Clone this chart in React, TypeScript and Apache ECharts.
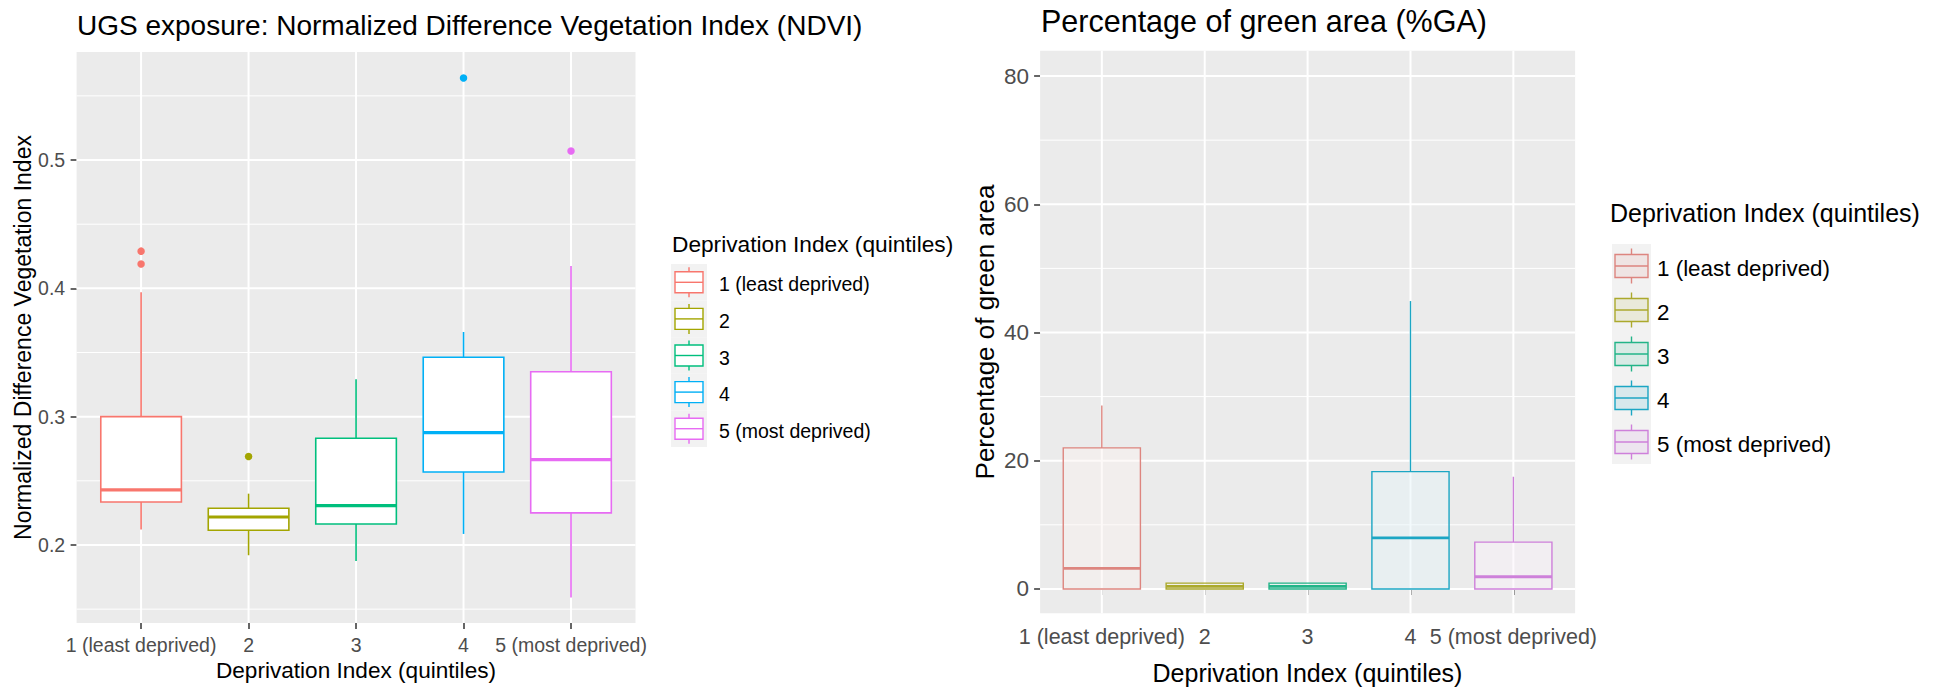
import { useEffect, useRef } from 'react';
import * as echarts from 'echarts';

// ---------- data ----------
const categories = ['1 (least deprived)', '2', '3', '4', '5 (most deprived)'];
const categoryPositions = [1, 2, 3, 4, 5];
const palette = ['#F8766D', '#A3A500', '#00BF7D', '#00B0F6', '#E76BF3'];
const paletteRight = ['#DD857F', '#ABA92C', '#22B488', '#1CA6C4', '#CE80DA'];

// NDVI panel (box statistics per quintile)
const ndviLow = [0.212, 0.192, 0.1875, 0.2086, 0.159];
const ndviQ1 = [0.2335, 0.2115, 0.2164, 0.2569, 0.225];
const ndviMedian = [0.243, 0.2218, 0.2306, 0.2875, 0.2665];
const ndviQ3 = [0.3, 0.2286, 0.2832, 0.3463, 0.335];
const ndviHigh = [0.397, 0.24, 0.3291, 0.366, 0.4175];
const ndviOutlierCategory = [1, 1, 2, 4, 5];
const ndviOutlierValue = [0.429, 0.419, 0.269, 0.564, 0.507];
const ndviTicks = [0.2, 0.3, 0.4, 0.5];
const ndviMinorTicks = [0.15, 0.25, 0.35, 0.45, 0.55];
const ndviRange = [0.1392, 0.5842];

// %GA panel
const gaLow = [0, 0, 0, 0, 0];
const gaQ1 = [0, 0, 0, 0, 0];
const gaMedian = [3.2, 0.4, 0.4, 7.95, 1.9];
const gaQ3 = [22.0, 0.9, 0.9, 18.3, 7.3];
const gaHigh = [28.6, 0.9, 0.9, 44.9, 17.5];
const gaTicks = [0, 20, 40, 60, 80];
const gaMinorTicks = [10, 30, 50, 70];
const gaRange = [-3.8, 83.95];

const xRange = [0.4, 5.6];

const leftTitle = 'UGS exposure: Normalized Difference Vegetation Index (NDVI)';
const rightTitle = 'Percentage of green area (%GA)';
const xTitle = 'Deprivation Index (quintiles)';
const leftYTitle = 'Normalized Difference Vegetation Index';
const rightYTitle = 'Percentage of green area';
const legendTitle = 'Deprivation Index (quintiles)';

// ---------- styling ----------
const REG = "'Liberation Sans', Arial, sans-serif";
const PANEL_BG = '#EBEBEB';

function hexA(hex: string, a: number) {
  const n = parseInt(hex.slice(1), 16);
  return `rgba(${(n >> 16) & 255},${(n >> 8) & 255},${n & 255},${a})`;
}

function boxRenderer(colors: string[], right: boolean) {
  return (params: any, api: any) => {
    const x = api.value(0);
    const c = colors[Math.round(x) - 1];
    const pLow = api.coord([x, api.value(1)]);
    const pQ1 = api.coord([x, api.value(2)]);
    const pMed = api.coord([x, api.value(3)]);
    const pQ3 = api.coord([x, api.value(4)]);
    const pHigh = api.coord([x, api.value(5)]);
    const hw = api.size([0.375, 0])[0];
    const cx = pMed[0];
    const lw = right ? 1.4 : 1.6;
    const children: any[] = [];
    if (pHigh[1] < pQ3[1] - 0.5)
      children.push({ type: 'line', shape: { x1: cx, y1: pHigh[1], x2: cx, y2: pQ3[1] }, style: { stroke: c, lineWidth: lw } });
    if (pLow[1] > pQ1[1] + 0.5)
      children.push({ type: 'line', shape: { x1: cx, y1: pQ1[1], x2: cx, y2: pLow[1] }, style: { stroke: c, lineWidth: lw } });
    if (right) {
      children.push({ type: 'rect', shape: { x: cx - hw, y: pQ3[1], width: 2 * hw, height: pQ1[1] - pQ3[1] }, style: { fill: 'rgba(255,255,255,0.45)' } });
      children.push({ type: 'rect', shape: { x: cx - hw, y: pQ3[1], width: 2 * hw, height: pQ1[1] - pQ3[1] }, style: { fill: hexA(c, 0.05), stroke: c, lineWidth: lw } });
    } else {
      children.push({ type: 'rect', shape: { x: cx - hw, y: pQ3[1], width: 2 * hw, height: pQ1[1] - pQ3[1] }, style: { fill: '#FFFFFF', stroke: c, lineWidth: lw } });
    }
    children.push({ type: 'line', shape: { x1: cx - hw, y1: pMed[1], x2: cx + hw, y2: pMed[1] }, style: { stroke: c, lineWidth: lw * 2 } });
    return { type: 'group', children };
  };
}

function hGridRenderer(lw: number) {
  return (params: any, api: any) => {
    const cs = params.coordSys;
    const y = api.coord([api.value(0), api.value(1)])[1];
    return { type: 'line', silent: true, shape: { x1: cs.x, y1: y, x2: cs.x + cs.width, y2: y }, style: { stroke: '#FFFFFF', lineWidth: lw } };
  };
}

function vGridRenderer(lw: number) {
  return (params: any, api: any) => {
    const cs = params.coordSys;
    const x = api.coord([api.value(0), api.value(1)])[0];
    return { type: 'line', silent: true, shape: { x1: x, y1: cs.y, x2: x, y2: cs.y + cs.height }, style: { stroke: '#FFFFFF', lineWidth: lw } };
  };
}

function xAxisCfg(gridIndex: number, fontSize: number, margin: number) {
  return {
    type: 'value', gridIndex, min: xRange[0], max: xRange[1],
    axisLine: { show: false }, splitLine: { show: false },
    axisTick: { show: true, length: 6, lineStyle: { color: '#333333', width: 1.5 }, customValues: categoryPositions },
    axisLabel: {
      customValues: categoryPositions, showMinLabel: true, showMaxLabel: true, hideOverlap: false,
      formatter: (v: number) => categories[Math.round(v) - 1] ?? '',
      color: '#4D4D4D', fontSize, fontFamily: REG, margin,
    },
  };
}

function yAxisCfg(gridIndex: number, range: number[], ticks: number[], fontSize: number, margin: number) {
  return {
    type: 'value', gridIndex, min: range[0], max: range[1],
    axisLine: { show: false }, splitLine: { show: false },
    axisTick: { show: true, length: 6, lineStyle: { color: '#333333', width: 1.5 }, customValues: ticks },
    axisLabel: {
      customValues: ticks, showMinLabel: true, showMaxLabel: true, hideOverlap: false,
      formatter: (v: number) => String(v), color: '#4D4D4D', fontSize, fontFamily: REG, margin,
    },
  };
}

function legendElements(cfg: any) {
  const els: any[] = [];
  els.push({ type: 'text', x: cfg.titleX, y: cfg.titleY, style: { text: legendTitle, fontSize: cfg.titleSize, fontFamily: REG, fill: '#000', textAlign: 'left', textVerticalAlign: 'middle' } });
  categories.forEach((name, i) => {
    const top = cfg.keyTop + cfg.keyH * i;
    const cy = top + cfg.keyH / 2;
    const cx = cfg.keyX + cfg.keyW / 2;
    const c = cfg.colors[i];
    els.push({ type: 'rect', shape: { x: cfg.keyX, y: top, width: cfg.keyW, height: cfg.keyH }, style: { fill: '#F2F2F2' } });
    els.push({ type: 'line', shape: { x1: cx, y1: cy - cfg.whisk, x2: cx, y2: cy - cfg.boxH }, style: { stroke: c, lineWidth: 1.4 } });
    els.push({ type: 'line', shape: { x1: cx, y1: cy + cfg.boxH, x2: cx, y2: cy + cfg.whisk }, style: { stroke: c, lineWidth: 1.4 } });
    els.push({ type: 'rect', shape: { x: cx - cfg.boxW / 2, y: cy - cfg.boxH, width: cfg.boxW, height: cfg.boxH * 2 }, style: { fill: cfg.fill(c), stroke: c, lineWidth: 1.4 } });
    els.push({ type: 'line', shape: { x1: cx - cfg.boxW / 2, y1: cy, x2: cx + cfg.boxW / 2, y2: cy }, style: { stroke: c, lineWidth: 1.4 } });
    els.push({ type: 'text', x: cfg.labelX, y: cy + cfg.labelDy, style: { text: name, fontSize: cfg.labelSize, fontFamily: REG, fill: '#000', textAlign: 'left', textVerticalAlign: 'middle' } });
  });
  return els;
}

export default function App() {
  const ref = useRef<HTMLDivElement>(null);
  useEffect(() => {
    if (!ref.current) return;
    const chart = echarts.init(ref.current, undefined, { renderer: 'svg' });

    const ndviBoxes = categoryPositions.map((p, i) => [p, ndviLow[i], ndviQ1[i], ndviMedian[i], ndviQ3[i], ndviHigh[i]]);
    const gaBoxes = categoryPositions.map((p, i) => [p, gaLow[i], gaQ1[i], gaMedian[i], gaQ3[i], gaHigh[i]]);
    const ndviOutliers = ndviOutlierCategory.map((c, i) => [c, ndviOutlierValue[i]]);

    const graphics: any[] = [
      { type: 'text', x: 77, y: 25.5, style: { text: leftTitle, fontSize: 28, fontFamily: REG, fill: '#000', textAlign: 'left', textVerticalAlign: 'middle' } },
      { type: 'text', x: 1041, y: 21, style: { text: rightTitle, fontSize: 30.5, fontFamily: REG, fill: '#000', textAlign: 'left', textVerticalAlign: 'middle' } },
      { type: 'text', x: 356, y: 670, style: { text: xTitle, fontSize: 22.6, fontFamily: REG, fill: '#000', textAlign: 'center', textVerticalAlign: 'middle' } },
      { type: 'text', x: 1307.5, y: 673, style: { text: xTitle, fontSize: 25, fontFamily: REG, fill: '#000', textAlign: 'center', textVerticalAlign: 'middle' } },
      { type: 'text', x: 22.5, y: 337.5, rotation: Math.PI / 2, style: { text: leftYTitle, fontSize: 23, fontFamily: REG, fill: '#000', textAlign: 'center', textVerticalAlign: 'middle' } },
      { type: 'text', x: 985, y: 332, rotation: Math.PI / 2, style: { text: rightYTitle, fontSize: 26, fontFamily: REG, fill: '#000', textAlign: 'center', textVerticalAlign: 'middle' } },
      ...legendElements({
        titleX: 672, titleY: 243.5, titleSize: 22.7, keyX: 671, keyTop: 264, keyW: 36, keyH: 36.6,
        boxW: 28, boxH: 10.5, whisk: 15, labelX: 719, labelDy: 2, labelSize: 19.5,
        colors: palette, fill: () => '#FFFFFF',
      }),
      ...legendElements({
        titleX: 1610, titleY: 213, titleSize: 25, keyX: 1612, keyTop: 244, keyW: 39, keyH: 44,
        boxW: 33, boxH: 11.5, whisk: 17.5, labelX: 1657, labelDy: 2.5, labelSize: 22.4,
        colors: paletteRight, fill: (c: string) => hexA(c, 0.12),
      }),
    ];

    chart.setOption({
      animation: false,
      backgroundColor: '#FFFFFF',
      grid: [
        { left: 76.6, top: 52, width: 558.9, height: 571, show: true, backgroundColor: PANEL_BG, borderWidth: 0 },
        { left: 1040.1, top: 50.7, width: 535, height: 562.6, show: true, backgroundColor: PANEL_BG, borderWidth: 0 },
      ],
      xAxis: [xAxisCfg(0, 19.5, 11.5), xAxisCfg(1, 21.5, 13)],
      yAxis: [yAxisCfg(0, ndviRange, ndviTicks, 19.5, 11.4), yAxisCfg(1, gaRange, gaTicks, 22.5, 11)],
      graphic: graphics,
      series: [
        { type: 'custom', xAxisIndex: 0, yAxisIndex: 0, z: 1, silent: true, renderItem: hGridRenderer(1), data: ndviMinorTicks.map((t) => [xRange[0], t]) },
        { type: 'custom', xAxisIndex: 0, yAxisIndex: 0, z: 1, silent: true, renderItem: hGridRenderer(2), data: ndviTicks.map((t) => [xRange[0], t]) },
        { type: 'custom', xAxisIndex: 0, yAxisIndex: 0, z: 1, silent: true, renderItem: vGridRenderer(2), data: categoryPositions.map((p) => [p, ndviRange[0]]) },
        { type: 'custom', name: 'NDVI', xAxisIndex: 0, yAxisIndex: 0, z: 2, renderItem: boxRenderer(palette, false), data: ndviBoxes },
        {
          type: 'scatter', name: 'NDVI outliers', xAxisIndex: 0, yAxisIndex: 0, z: 3, symbolSize: 7.5,
          itemStyle: { color: (p: any) => palette[p.data[0] - 1], opacity: 1 }, data: ndviOutliers,
        },
        { type: 'custom', xAxisIndex: 1, yAxisIndex: 1, z: 1, silent: true, renderItem: hGridRenderer(1), data: gaMinorTicks.map((t) => [xRange[0], t]) },
        { type: 'custom', xAxisIndex: 1, yAxisIndex: 1, z: 1, silent: true, renderItem: hGridRenderer(2), data: gaTicks.map((t) => [xRange[0], t]) },
        { type: 'custom', xAxisIndex: 1, yAxisIndex: 1, z: 1, silent: true, renderItem: vGridRenderer(2), data: categoryPositions.map((p) => [p, gaRange[0]]) },
        { type: 'custom', name: '%GA', xAxisIndex: 1, yAxisIndex: 1, z: 2, renderItem: boxRenderer(paletteRight, true), data: gaBoxes },
      ],
    });
    return () => chart.dispose();
  }, []);
  return <div ref={ref} style={{ position: 'fixed', left: 0, top: 0, width: 1944, height: 690, background: '#fff' }} />;
}
